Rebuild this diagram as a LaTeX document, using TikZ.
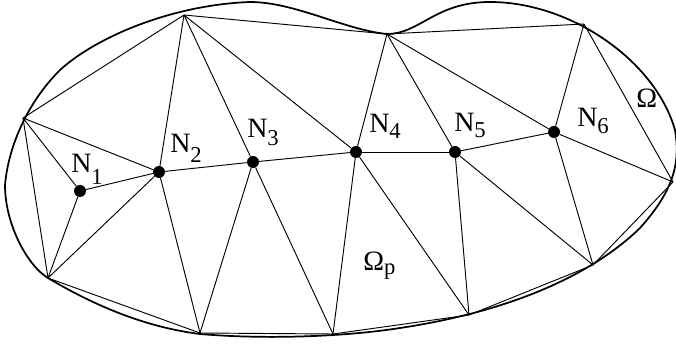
\documentclass[tikz,border=0pt]{standalone}
\usepackage{fontspec}
\setmainfont{Liberation Serif}
\newcommand{\lowidx}[2]{\raisebox{-#1pt}{\fontsize{17}{17}\selectfont #2}}

\begin{document}
\begin{tikzpicture}[
      x=0.75pt, y=-0.75pt,
      font=\fontsize{21}{24}\selectfont,
      bnd/.style={line width=1.3pt, line join=round},
      mesh/.style={line width=0.7pt},
      dot/.style={circle, fill=black, inner sep=0pt, minimum size=9pt},
      lbl/.style={anchor=base west, inner sep=0pt},
    ]
    \useasboundingbox (0,0) rectangle (676,345);

    % Outer boundary
    \draw[bnd] (5,185)
      .. controls (8,150) and (25,105) .. (60,70)
      .. controls (95,38) and (170,5) .. (250,2)
      .. controls (295,2) and (345,30) .. (387,34)
      .. controls (420,34) and (435,2) .. (490,2)
      .. controls (570,2) and (655,60) .. (675,130)
      .. controls (680,160) and (676,188) .. (640,228)
      .. controls (597,270) and (520,310) .. (400,328)
      .. controls (350,336) and (270,340) .. (200,334)
      .. controls (135,326) and (80,297) .. (48,278)
      .. controls (28,266) and (5,225) .. (5,185) -- cycle;

    % Mesh vertices on the boundary
    \coordinate (bl) at (23,118);
    \coordinate (ta) at (184,15);
    \coordinate (tb) at (387,34);
    \coordinate (tc) at (584,24);
    \coordinate (rr) at (673,182);
    \coordinate (ba) at (593,265);
    \coordinate (bb) at (469,315);
    \coordinate (bc) at (333,334);
    \coordinate (bd) at (200,333);
    \coordinate (be) at (48,278);

    % Interior nodes
    \node[dot] (n1) at (80,191) {};
    \node[dot] (n2) at (159,172) {};
    \node[dot] (n3) at (253,162) {};
    \node[dot] (n4) at (356,152) {};
    \node[dot] (n5) at (455,152) {};
    \node[dot] (n6) at (554,132) {};

    % Mesh edges
    \foreach \a/\b in {bl/ta, bl/n2, bl/n1, bl/be, n1/n2, n1/be, be/n2, be/bd,
        n2/ta, n2/n3, n2/bd, bd/n3, n3/ta, n3/n4, n3/bc, ta/n4, ta/tb,
        n4/tb, n4/n5, n4/bc, n4/bb, n5/tb, n5/n6, n5/bb, n5/ba,
        tb/n6, tb/tc, tc/n6, tc/rr, n6/rr, n6/ba, rr/ba, ba/bb, bb/bc, bc/bd}
      \draw[mesh] (\a) -- (\b);

    % Labels
    \node[lbl] (l1) at (71,173) {N\lowidx{9}{1}};
    \node[lbl] (l2) at (170,153) {N\lowidx{7.5}{2}};
    \node[lbl] (l3) at (247,138) {N\lowidx{6}{3}};
    \node[lbl] (l4) at (369,133) {N\lowidx{4.5}{4}};
    \node[lbl] (l5) at (454,132) {N\lowidx{4.5}{5}};
    \node[lbl] (l6) at (577,127) {N\lowidx{5}{6}};
    \node[lbl] (om) at (636,108) {Ω};
    \node[lbl] (omp) at (363,271) {Ω\lowidx{3}{p}};
\end{tikzpicture}
\end{document}
